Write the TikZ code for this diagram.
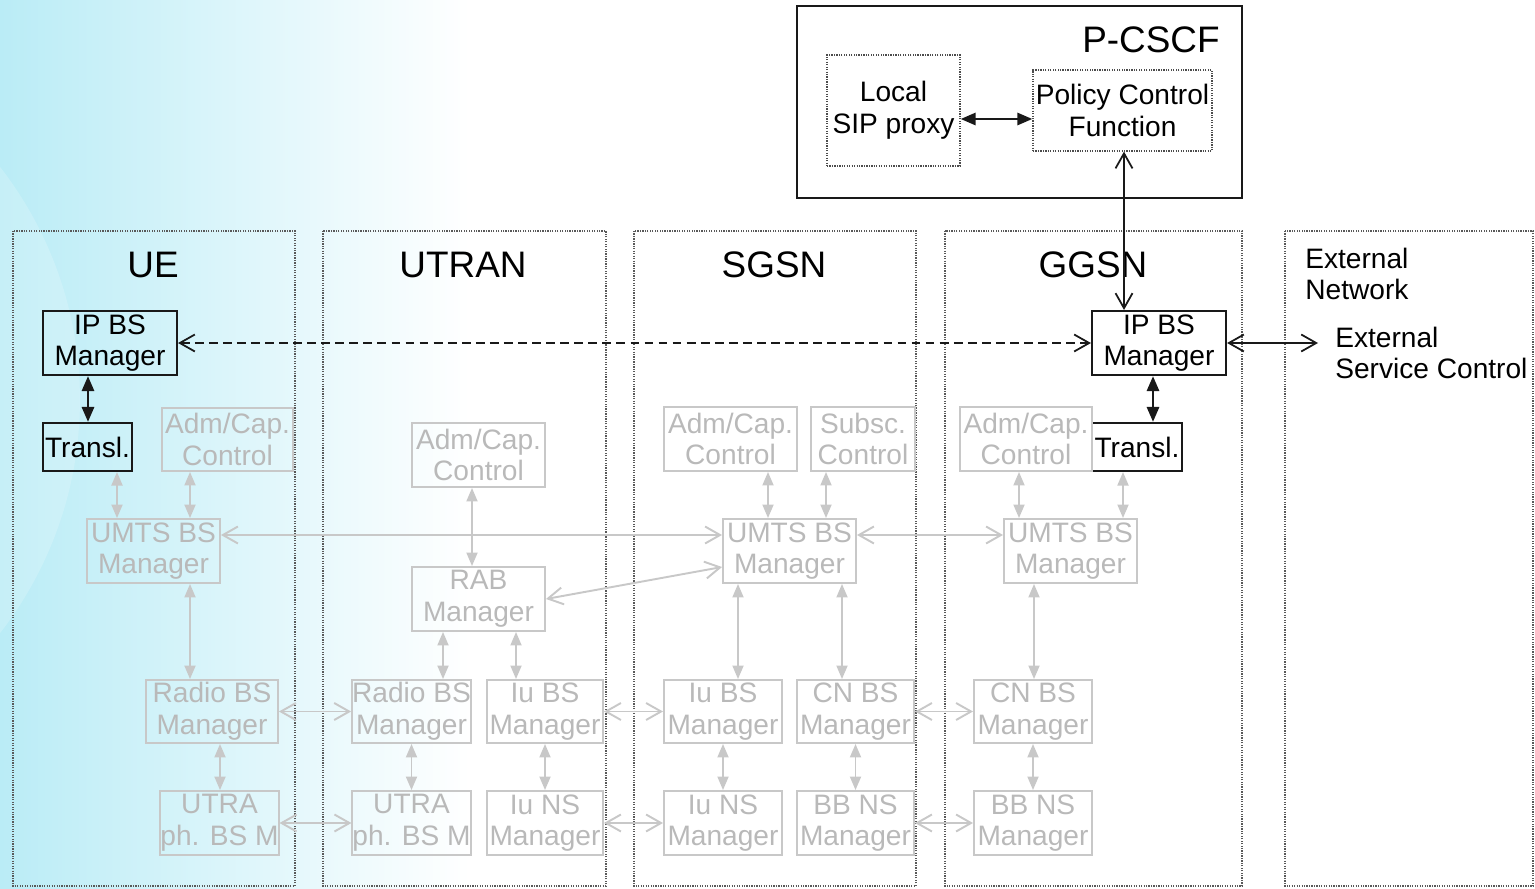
\documentclass[tikz,border=0pt]{standalone}
\usepackage{fontspec}
\setmainfont{Liberation Sans}
\usetikzlibrary{arrows.meta,positioning,calc}
\definecolor{umgray}{RGB}{200,200,200}
\definecolor{umtext}{RGB}{185,185,185}
\definecolor{umdark}{RGB}{25,25,25}
\definecolor{umcyan}{RGB}{186,236,246}

\begin{document}
\begin{tikzpicture}[x=0.02cm,y=-0.02cm,
  bfont/.style={font=\fontsize{16}{18}\selectfont},
  gbox/.style={bfont,draw=umgray,line width=1.1pt,text=umtext,align=center,inner sep=0pt},
  kbox/.style={bfont,draw=umdark,line width=1.2pt,text=black,align=center,inner sep=0pt},
  dbox/.style={bfont,draw=black!70,line width=0.7pt,dash pattern=on 0.7pt off 0.7pt,align=center,inner sep=0pt},
  sz/.style 2 args={minimum width=#1*0.02cm,minimum height=#2*0.02cm},
  col/.style={draw=black!65,line width=0.7pt,dash pattern=on 0.7pt off 0.7pt},
  hdr/.style={font=\fontsize{21}{24}\selectfont},
  garr/.style={draw=umgray,line width=1.1pt,
    {Triangle[length=0.27cm,width=0.22cm]}-{Triangle[length=0.27cm,width=0.22cm]}},
  oarr/.style={draw=umgray,line width=1.1pt,
    {Straight Barb[length=0.3cm,width=0.34cm]}-{Straight Barb[length=0.3cm,width=0.34cm]}},
  karr/.style={draw=umdark,line width=1.6pt,
    {Triangle[length=0.3cm,width=0.24cm]}-{Triangle[length=0.3cm,width=0.24cm]}},
  kopen/.style={draw=umdark,line width=1pt,
    {Straight Barb[length=0.3cm,width=0.34cm]}-{Straight Barb[length=0.3cm,width=0.34cm]}}
]
  \useasboundingbox (0,0) rectangle (1535,889);
  % background
  \fill[left color=umcyan,right color=white] (0,0) rectangle (470,889);
  \fill[white,opacity=0.18] (-300,400) circle[radius=7.6cm];

  % columns
  \draw[col] (13,231) rectangle (295,886);
  \draw[col] (323,231) rectangle (606,886);
  \draw[col] (634,231) rectangle (916,886);
  \draw[col] (945,231) rectangle (1242,886);
  \draw[col] (1285,231) rectangle (1533,886);
  \node[hdr] (hUE) at (153,265) {UE};
  \node[hdr] (hUTRAN) at (463,265) {UTRAN};
  \node[hdr] (hSGSN) at (774,265) {SGSN};
  \node[hdr] (hGGSN) at (1093,265) {GGSN};
  \node[bfont,align=left,anchor=west,inner sep=0pt] (hExt) at (1305,274) {External\\Network};

  % P-CSCF
  \node[draw=umdark,line width=1.6pt,sz={445}{192}] (pcscf) at (1019.5,102) {};
  \node[hdr,anchor=east,inner sep=0pt] (pLbl) at (1220,40) {P-CSCF};
  \node[dbox,sz={133}{111}] (sip) at (893.5,110.5) {Local\\SIP proxy};
  \node[dbox,sz={179}{81}] (pcf) at (1122.5,110.5) {Policy Control\\Function};

  % UE
  \node[kbox,sz={134}{64}] (ueIp) at (110,343) {IP BS\\Manager};
  \node[kbox,sz={89}{48}] (ueTr) at (87.5,447) {Transl.};
  \node[gbox,sz={131}{63}] (ueAdm) at (227.5,439.5) {Adm/Cap.\\Control};
  \node[gbox,sz={133}{64}] (ueUmts) at (153.5,551) {UMTS BS\\Manager};
  \node[gbox,sz={132}{63}] (ueRadio) at (212,711.5) {Radio BS\\Manager};
  \node[gbox,sz={117}{64}] (ueUtra) at (219.5,823) {UTRA\\ph. BS M};

  % UTRAN
  \node[gbox,sz={133}{64}] (utAdm) at (478.5,455) {Adm/Cap.\\Control};
  \node[gbox,sz={133}{64}] (utRab) at (478.5,599) {RAB\\Manager};
  \node[gbox,sz={117}{63}] (utRadio) at (411.5,711.5) {Radio BS\\Manager};
  \node[gbox,sz={116}{63}] (utIuBs) at (545,711.5) {Iu BS\\Manager};
  \node[gbox,sz={117}{64}] (utUtra) at (411.5,823) {UTRA\\ph. BS M};
  \node[gbox,sz={116}{64}] (utIuNs) at (545,823) {Iu NS\\Manager};

  % SGSN
  \node[gbox,sz={133}{64}] (sgAdm) at (730.5,439) {Adm/Cap.\\Control};
  \node[gbox,sz={104}{64}] (sgSub) at (863,439) {Subsc.\\Control};
  \node[gbox,sz={133}{64}] (sgUmts) at (789.5,551) {UMTS BS\\Manager};
  \node[gbox,sz={118}{63}] (sgIuBs) at (723,711.5) {Iu BS\\Manager};
  \node[gbox,sz={117}{63}] (sgCnBs) at (855.5,711.5) {CN BS\\Manager};
  \node[gbox,sz={118}{64}] (sgIuNs) at (723,823) {Iu NS\\Manager};
  \node[gbox,sz={117}{64}] (sgBbNs) at (855.5,823) {BB NS\\Manager};

  % GGSN
  \node[kbox,sz={134}{64}] (ggIp) at (1159,343) {IP BS\\Manager};
  \node[kbox,sz={90}{48}] (ggTr) at (1137,447) {Transl.};
  \node[gbox,sz={132}{64}] (ggAdm) at (1026,439) {Adm/Cap.\\Control};
  \node[gbox,sz={133}{64}] (ggUmts) at (1070.5,551) {UMTS BS\\Manager};
  \node[gbox,sz={118}{63}] (ggCnBs) at (1033,711.5) {CN BS\\Manager};
  \node[gbox,sz={118}{64}] (ggBbNs) at (1033,823) {BB NS\\Manager};

  % external
  \node[bfont,align=left,anchor=west,inner xsep=0.34cm,inner ysep=0pt] (extSC) at (1318,353) {External\\Service Control};

  % gray vertical links
  \draw[garr] (117,0 |- ueTr.south) -- (117,0 |- ueUmts.north);
  \draw[garr] (190,0 |- ueAdm.south) -- (190,0 |- ueUmts.north);
  \draw[garr] (190,0 |- ueUmts.south) -- (190,0 |- ueRadio.north);
  \draw[garr] (220,0 |- ueRadio.south) -- (220,0 |- ueUtra.north);
  \draw[garr] (472,0 |- utAdm.south) -- (472,0 |- utRab.north);
  \draw[garr] (443,0 |- utRab.south) -- (443,0 |- utRadio.north);
  \draw[garr] (516,0 |- utRab.south) -- (516,0 |- utIuBs.north);
  \draw[garr] (utRadio.south) -- (utUtra.north);
  \draw[garr] (utIuBs.south) -- (utIuNs.north);
  \draw[garr] (768,0 |- sgAdm.south) -- (768,0 |- sgUmts.north);
  \draw[garr] (826,0 |- sgSub.south) -- (826,0 |- sgUmts.north);
  \draw[garr] (738,0 |- sgUmts.south) -- (738,0 |- sgIuBs.north);
  \draw[garr] (842,0 |- sgUmts.south) -- (842,0 |- sgCnBs.north);
  \draw[garr] (sgIuBs.south) -- (sgIuNs.north);
  \draw[garr] (sgCnBs.south) -- (sgBbNs.north);
  \draw[garr] (1019,0 |- ggAdm.south) -- (1019,0 |- ggUmts.north);
  \draw[garr] (1123,0 |- ggTr.south) -- (1123,0 |- ggUmts.north);
  \draw[garr] (1034,0 |- ggUmts.south) -- (1034,0 |- ggCnBs.north);
  \draw[garr] (ggCnBs.south) -- (ggBbNs.north);

  % gray links between nodes of neighbouring columns
  \draw[oarr] (ueUmts.east |- 0,535) -- (sgUmts.west |- 0,535);
  \draw[oarr] (sgUmts.east |- 0,535) -- (ggUmts.west |- 0,535);
  \draw[oarr] (utRab.east) -- (sgUmts.west |- 0,567);
  \draw[oarr] (ueRadio.east) -- (utRadio.west);
  \draw[oarr] (ueUtra.east) -- (utUtra.west);
  \draw[oarr] (utIuBs.east) -- (sgIuBs.west);
  \draw[oarr] (utIuNs.east) -- (sgIuNs.west);
  \draw[oarr] (sgCnBs.east) -- (ggCnBs.west);
  \draw[oarr] (sgBbNs.east) -- (ggBbNs.west);

  % black links
  \draw[karr] (sip.east |- 0,119) -- (pcf.west |- 0,119);
  \draw[kopen] (1124,0 |- pcf.south) -- (1124,0 |- ggIp.north);
  \draw[karr] (88,0 |- ueIp.south) -- (88,0 |- ueTr.north);
  \draw[karr] (1153,0 |- ggIp.south) -- (1153,0 |- ggTr.north);
  \draw[kopen,dash pattern=on 5pt off 3pt] (ueIp.east) -- (ggIp.west);
  \draw[kopen] (ggIp.east) -- (ggIp.east -| extSC.west);
\end{tikzpicture}
\end{document}
